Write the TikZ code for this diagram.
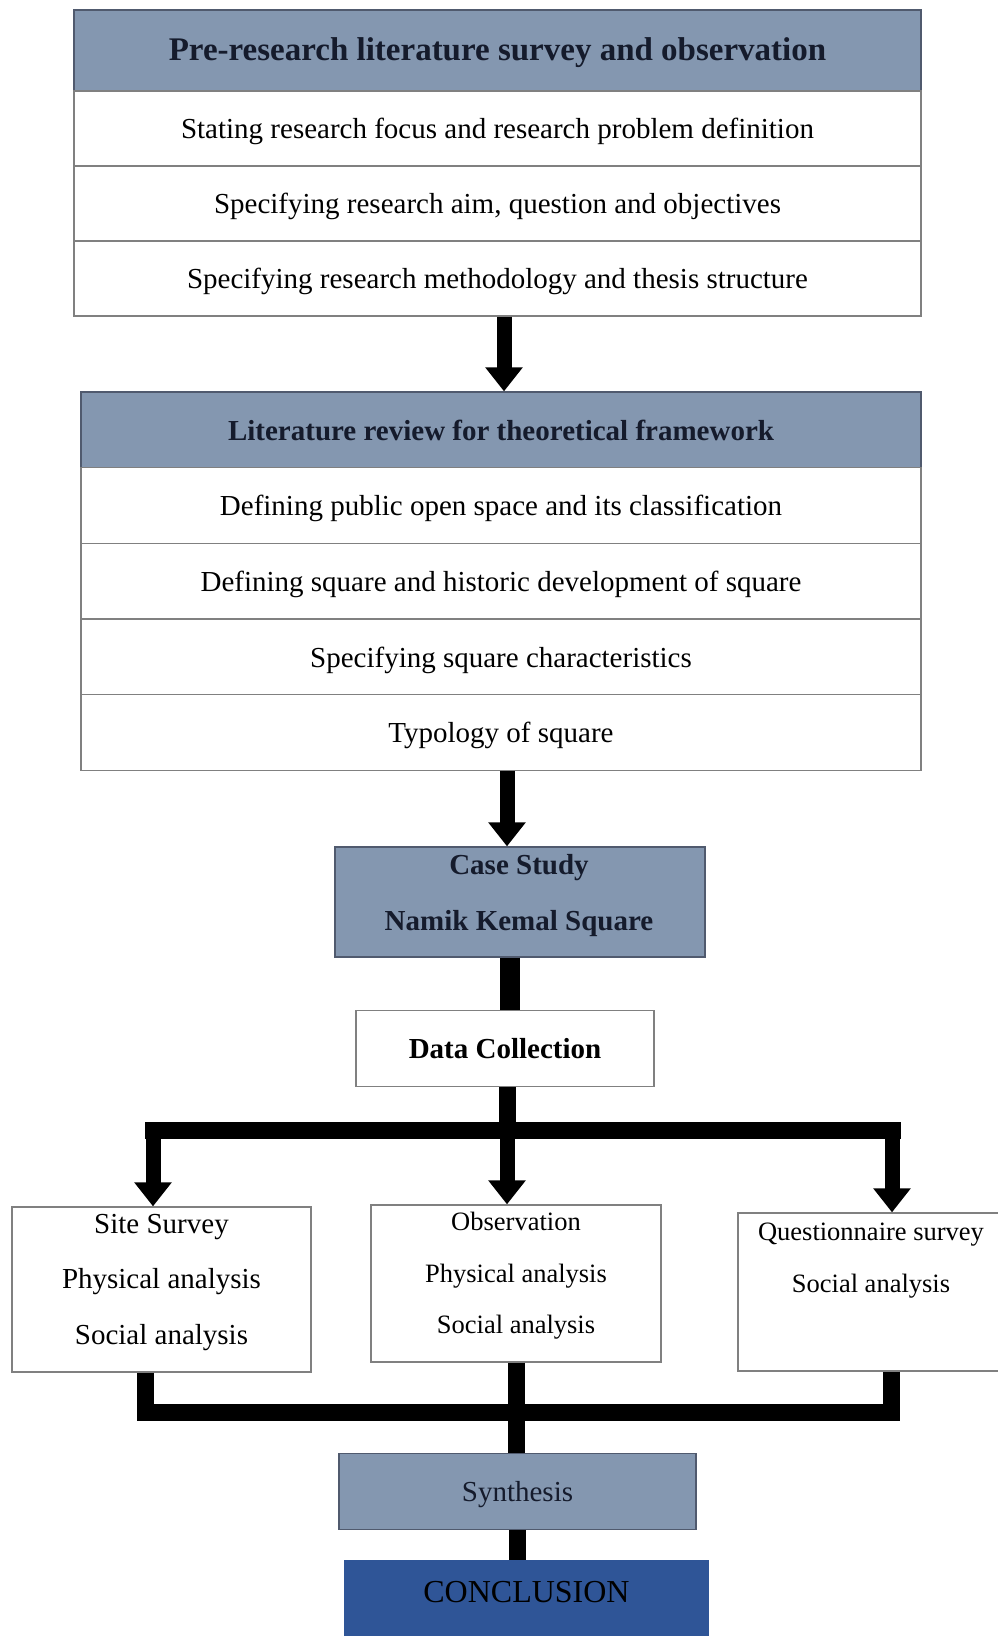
\documentclass[tikz,border=0pt]{standalone}
\usepackage{fontspec}
\setmainfont{Liberation Serif}
\usepackage{tikz}
\usetikzlibrary{arrows.meta}
\definecolor{hdrfill}{HTML}{8497B0}
\definecolor{hdredge}{HTML}{505A6E}
\definecolor{boxedge}{HTML}{808080}
\definecolor{hdrtext}{HTML}{151B2C}
\definecolor{concblue}{HTML}{2F5597}
\newcommand{\tsz}[2]{\fontsize{#1}{#2}\selectfont}
\tikzset{
  hb/.style={draw=hdredge, fill=hdrfill, line width=1.3pt, text=hdrtext, inner sep=0pt,
             font=\tsz{29}{34}\bfseries, text height=21pt, text depth=1pt},
  rb/.style={draw=boxedge, fill=white, line width=1.3pt, inner sep=0pt, font=\tsz{29}{34},
             text height=21pt, text depth=1pt},
  ob/.style={draw=boxedge, fill=white, line width=1.3pt, inner sep=0pt},
  fl/.style={line width=17pt, black},
  fa/.style={line width=15pt, black, -{Triangle[length=24pt,width=36pt]}},
}

\begin{document}
\begin{tikzpicture}[x=1pt,y=-1pt]
  \clip (0,0) rectangle (998,1636);
  \fill[white] (0,0) rectangle (998,1636);
  \node[hb, font=\tsz{33}{38}\bfseries, text height=22pt, text depth=2pt,
        minimum width=847pt, minimum height=81pt] (pre) at (497.5,50.5)
    {Pre-research literature survey and observation};
  \node[rb, minimum width=847pt, minimum height=75pt] (pre1) at (497.5,128.5)
    {Stating research focus and research problem definition};
  \node[rb, minimum width=847pt, minimum height=75pt] (pre2) at (497.5,203.5)
    {Specifying research aim, question and objectives};
  \node[rb, minimum width=847pt, minimum height=75pt] (pre3) at (497.5,278.5)
    {Specifying research methodology and thesis structure};
  \node[hb, minimum width=840pt, minimum height=76pt] (lit) at (501,430)
    {Literature review for theoretical framework};
  \node[rb, minimum width=840pt, minimum height=75.5pt] (lit1) at (501,505.5)
    {Defining public open space and its classification};
  \node[rb, minimum width=840pt, minimum height=75.5pt] (lit2) at (501,581)
    {Defining square and historic development of square};
  \node[rb, minimum width=840pt, minimum height=75.5pt] (lit3) at (501,657)
    {Specifying square characteristics};
  \node[rb, minimum width=840pt, minimum height=75.5pt] (lit4) at (501,732.5)
    {Typology of square};
  \node[hb, minimum width=370pt, minimum height=110pt] (case) at (520,902){};
  \node[align=center, text=hdrtext, font=\tsz{29}{56}\bfseries] (case-txt) at (519,896)
    {Case Study\\Namik Kemal Square};
  \node[rb, font=\tsz{29}{34}\bfseries, minimum width=298pt, minimum height=76pt] (data) at (505,1048.5)
    {Data Collection};
  \node[ob, minimum width=299pt, minimum height=165pt] (site) at (161.5,1289.5){};
  \node[align=center, font=\tsz{29}{55.5}] (site-txt) at (161.5,1282.5)
    {Site Survey\\Physical analysis\\Social analysis};
  \node[ob, minimum width=290pt, minimum height=157pt] (obs) at (516,1283.5){};
  \node[align=center, font=\tsz{26.5}{51.5}] (obs-txt) at (516,1276)
    {Observation\\Physical analysis\\Social analysis};
  \node[ob, minimum width=280pt, minimum height=158pt] (quest) at (878,1292){};
  \node[align=center, font=\tsz{26.5}{52}] (quest-txt) at (871,1261)
    {Questionnaire survey\\Social analysis};
  \node[hb, font=\tsz{29}{34}, minimum width=357pt, minimum height=76pt] (syn) at (517.5,1491.5)
    {Synthesis};
  \node[fill=concblue, minimum width=365pt, minimum height=100pt, anchor=north] (conc) at (526.5,1560){};
  \node[font=\tsz{32}{36}] (conc-txt) at (526.5,1592){CONCLUSION};
  \coordinate (split) at (507,1130);
  \coordinate (sl) at (153,1130);
  \coordinate (sr) at (892,1130);
  \coordinate (jl) at (145,1412);
  \coordinate (jr) at (891,1412);
  \draw[fa] ([xshift=6.5pt]pre3.south) -- ([xshift=6.5pt]pre3.south |- lit.north);
  \draw[fa] ([xshift=6pt]lit4.south) -- ([xshift=6pt]lit4.south |- case.north);
  \draw[fl, line width=20pt] ([xshift=-10pt]case.south) -- ([xshift=-10pt]case.south |- data.north);
  \draw[fl] (data.south -| split) -- (split);
  \draw[fl, line cap=rect] (sl) -- (sr);
  \draw[fa] (sl) -- (sl |- site.north);
  \draw[fa] (split) -- (split |- obs.north);
  \draw[fa] (sr) -- (sr |- quest.north);
  \draw[fl] (site.south -| jl) -- (jl);
  \draw[fl] (quest.south -| jr) -- (jr);
  \draw[fl, line cap=rect] (jl) -- (jr);
  \draw[fl] (obs.south) -- (obs.south |- syn.north);
  \draw[fl] (syn.south) -- (syn.south |- conc.north);
\end{tikzpicture}
\end{document}
